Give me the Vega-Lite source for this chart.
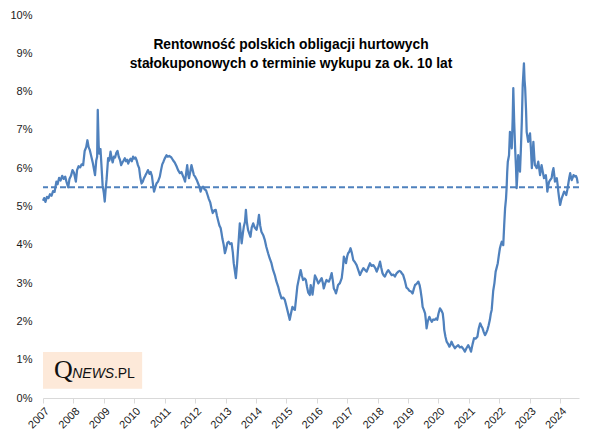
{
  "$schema": "https://vega.github.io/schema/vega-lite/v6.json",
  "width": 536,
  "height": 383,
  "autosize": {"type": "none"},
  "padding": {"left": 43, "top": 15, "right": 23, "bottom": 48},
  "background": "white",
  "config": {
    "view": {"stroke": null},
    "font": "Liberation Sans",
    "axisX": {"labelOverlap": false, "labelAngle": -45, "labelBound": false, "labelFlush": false, "grid": false, "domainColor": "#D9D9D9", "tickColor": "#D9D9D9", "tickSize": 5, "labelFontSize": 11, "labelColor": "#1a1a1a", "labelFont": "Liberation Sans", "labelPadding": 2, "title": null},
    "axisY": {"labelOverlap": false, "labelBound": false, "labelFlush": false, "grid": false, "domain": false, "ticks": false, "labelPadding": 11, "labelFontSize": 11, "labelColor": "#1a1a1a", "labelFont": "Liberation Sans", "title": null}
  },
  "title": {
    "text": ["Rentowność polskich obligacji hurtowych", "stałokuponowych o terminie wykupu za ok. 10 lat"],
    "anchor": "middle", "orient": "top", "offset": -62, "frame": "group",
    "font": "Liberation Sans", "fontWeight": "bold", "fontSize": 13.8, "color": "#000000", "lineHeight": 19, "dx": -20
  },
  "datasets": {
    "yields": [
      {"t":2007.0,"v":5.15},{"t":2007.04,"v":5.22},{"t":2007.08,"v":5.12},{"t":2007.13,"v":5.25},{"t":2007.18,"v":5.22},{"t":2007.23,"v":5.32},{"t":2007.28,"v":5.28},{"t":2007.33,"v":5.4},{"t":2007.38,"v":5.38},{"t":2007.44,"v":5.65},{"t":2007.48,"v":5.58},{"t":2007.53,"v":5.75},{"t":2007.58,"v":5.68},{"t":2007.63,"v":5.8},{"t":2007.68,"v":5.72},{"t":2007.73,"v":5.78},{"t":2007.78,"v":5.62},{"t":2007.83,"v":5.5},{"t":2007.87,"v":5.72},{"t":2007.92,"v":5.8},{"t":2007.97,"v":5.95},
      {"t":2008.02,"v":5.88},{"t":2008.08,"v":5.65},{"t":2008.12,"v":5.95},{"t":2008.17,"v":6.05},{"t":2008.22,"v":6.02},{"t":2008.27,"v":6.1},{"t":2008.32,"v":6.08},{"t":2008.37,"v":6.45},{"t":2008.42,"v":6.55},{"t":2008.46,"v":6.73},{"t":2008.5,"v":6.55},{"t":2008.54,"v":6.47},{"t":2008.59,"v":6.3},{"t":2008.64,"v":6.13},{"t":2008.68,"v":5.95},{"t":2008.71,"v":5.82},{"t":2008.75,"v":6.2},{"t":2008.78,"v":6.3},{"t":2008.8,"v":7.52},{"t":2008.83,"v":6.6},{"t":2008.85,"v":6.38},{"t":2008.89,"v":6.5},{"t":2008.92,"v":6.1},{"t":2008.96,"v":5.55},
      {"t":2009.0,"v":5.35},{"t":2009.03,"v":5.13},{"t":2009.06,"v":5.45},{"t":2009.09,"v":5.7},{"t":2009.14,"v":6.26},{"t":2009.18,"v":6.2},{"t":2009.22,"v":6.43},{"t":2009.26,"v":6.25},{"t":2009.29,"v":6.15},{"t":2009.33,"v":6.3},{"t":2009.37,"v":6.28},{"t":2009.41,"v":6.4},{"t":2009.45,"v":6.45},{"t":2009.49,"v":6.3},{"t":2009.53,"v":6.22},{"t":2009.57,"v":6.08},{"t":2009.61,"v":6.15},{"t":2009.65,"v":6.2},{"t":2009.69,"v":6.26},{"t":2009.73,"v":6.18},{"t":2009.77,"v":6.22},{"t":2009.8,"v":6.12},{"t":2009.84,"v":6.2},{"t":2009.88,"v":6.25},{"t":2009.92,"v":6.18},{"t":2009.96,"v":6.3},
      {"t":2010.0,"v":6.25},{"t":2010.04,"v":6.28},{"t":2010.08,"v":6.2},{"t":2010.12,"v":6.08},{"t":2010.16,"v":6.0},{"t":2010.2,"v":5.75},{"t":2010.24,"v":5.6},{"t":2010.28,"v":5.65},{"t":2010.32,"v":5.74},{"t":2010.36,"v":5.8},{"t":2010.41,"v":5.88},{"t":2010.45,"v":5.95},{"t":2010.5,"v":5.85},{"t":2010.54,"v":5.9},{"t":2010.58,"v":5.8},{"t":2010.62,"v":5.55},{"t":2010.65,"v":5.39},{"t":2010.69,"v":5.5},{"t":2010.73,"v":5.6},{"t":2010.78,"v":5.65},{"t":2010.84,"v":5.78},{"t":2010.88,"v":5.95},{"t":2010.92,"v":6.1},{"t":2010.96,"v":6.17},
      {"t":2011.0,"v":6.25},{"t":2011.06,"v":6.34},{"t":2011.1,"v":6.3},{"t":2011.15,"v":6.32},{"t":2011.22,"v":6.28},{"t":2011.28,"v":6.2},{"t":2011.33,"v":6.15},{"t":2011.39,"v":6.05},{"t":2011.44,"v":5.95},{"t":2011.5,"v":5.87},{"t":2011.55,"v":5.9},{"t":2011.6,"v":5.8},{"t":2011.64,"v":5.72},{"t":2011.67,"v":5.65},{"t":2011.71,"v":5.9},{"t":2011.74,"v":6.08},{"t":2011.77,"v":5.85},{"t":2011.8,"v":5.74},{"t":2011.84,"v":5.9},{"t":2011.88,"v":6.08},{"t":2011.92,"v":5.95},{"t":2011.96,"v":5.82},
      {"t":2012.0,"v":5.78},{"t":2012.05,"v":5.7},{"t":2012.1,"v":5.6},{"t":2012.14,"v":5.52},{"t":2012.18,"v":5.39},{"t":2012.22,"v":5.5},{"t":2012.26,"v":5.52},{"t":2012.31,"v":5.45},{"t":2012.36,"v":5.42},{"t":2012.41,"v":5.3},{"t":2012.45,"v":5.2},{"t":2012.5,"v":5.1},{"t":2012.54,"v":4.95},{"t":2012.58,"v":4.83},{"t":2012.63,"v":4.9},{"t":2012.68,"v":4.91},{"t":2012.72,"v":4.75},{"t":2012.76,"v":4.62},{"t":2012.8,"v":4.5},{"t":2012.84,"v":4.44},{"t":2012.87,"v":4.3},{"t":2012.9,"v":4.15},{"t":2012.94,"v":4.0},{"t":2012.98,"v":3.78},
      {"t":2013.02,"v":3.9},{"t":2013.06,"v":4.05},{"t":2013.1,"v":4.08},{"t":2013.15,"v":4.02},{"t":2013.2,"v":4.04},{"t":2013.24,"v":3.8},{"t":2013.27,"v":3.52},{"t":2013.31,"v":3.3},{"t":2013.34,"v":3.13},{"t":2013.38,"v":3.5},{"t":2013.41,"v":3.86},{"t":2013.44,"v":4.2},{"t":2013.47,"v":4.56},{"t":2013.5,"v":4.3},{"t":2013.53,"v":4.04},{"t":2013.57,"v":4.3},{"t":2013.6,"v":4.47},{"t":2013.64,"v":4.6},{"t":2013.67,"v":4.91},{"t":2013.7,"v":4.6},{"t":2013.74,"v":4.39},{"t":2013.78,"v":4.3},{"t":2013.82,"v":4.21},{"t":2013.86,"v":4.45},{"t":2013.91,"v":4.56},{"t":2013.96,"v":4.45},
      {"t":2014.02,"v":4.39},{"t":2014.06,"v":4.55},{"t":2014.1,"v":4.78},{"t":2014.14,"v":4.5},{"t":2014.18,"v":4.34},{"t":2014.24,"v":4.25},{"t":2014.29,"v":4.13},{"t":2014.34,"v":3.95},{"t":2014.4,"v":3.78},{"t":2014.45,"v":3.65},{"t":2014.51,"v":3.52},{"t":2014.56,"v":3.35},{"t":2014.62,"v":3.21},{"t":2014.67,"v":3.05},{"t":2014.73,"v":2.91},{"t":2014.78,"v":2.75},{"t":2014.84,"v":2.6},{"t":2014.9,"v":2.62},{"t":2014.95,"v":2.56},
      {"t":2015.0,"v":2.4},{"t":2015.06,"v":2.21},{"t":2015.11,"v":2.04},{"t":2015.15,"v":2.2},{"t":2015.2,"v":2.38},{"t":2015.24,"v":2.32},{"t":2015.28,"v":2.3},{"t":2015.32,"v":2.6},{"t":2015.36,"v":2.91},{"t":2015.42,"v":3.15},{"t":2015.47,"v":3.34},{"t":2015.51,"v":3.2},{"t":2015.55,"v":3.08},{"t":2015.6,"v":3.12},{"t":2015.64,"v":3.08},{"t":2015.68,"v":2.9},{"t":2015.72,"v":2.75},{"t":2015.77,"v":2.69},{"t":2015.8,"v":2.95},{"t":2015.86,"v":2.7},{"t":2015.9,"v":2.95},{"t":2015.94,"v":3.2},
      {"t":2016.0,"v":3.1},{"t":2016.05,"v":2.99},{"t":2016.1,"v":3.05},{"t":2016.16,"v":3.13},{"t":2016.2,"v":3.0},{"t":2016.23,"v":2.86},{"t":2016.28,"v":3.0},{"t":2016.32,"v":3.08},{"t":2016.36,"v":3.05},{"t":2016.4,"v":3.04},{"t":2016.45,"v":3.15},{"t":2016.49,"v":3.26},{"t":2016.53,"v":3.05},{"t":2016.56,"v":2.86},{"t":2016.6,"v":2.8},{"t":2016.63,"v":2.73},{"t":2016.67,"v":2.85},{"t":2016.7,"v":2.95},{"t":2016.76,"v":3.0},{"t":2016.82,"v":3.13},{"t":2016.86,"v":3.4},{"t":2016.89,"v":3.69},{"t":2016.93,"v":3.6},{"t":2016.96,"v":3.52},
      {"t":2017.0,"v":3.7},{"t":2017.03,"v":3.78},{"t":2017.07,"v":3.82},{"t":2017.11,"v":3.91},{"t":2017.15,"v":3.8},{"t":2017.2,"v":3.6},{"t":2017.25,"v":3.55},{"t":2017.31,"v":3.47},{"t":2017.36,"v":3.35},{"t":2017.42,"v":3.21},{"t":2017.47,"v":3.3},{"t":2017.53,"v":3.39},{"t":2017.58,"v":3.35},{"t":2017.64,"v":3.3},{"t":2017.7,"v":3.42},{"t":2017.75,"v":3.52},{"t":2017.8,"v":3.45},{"t":2017.86,"v":3.47},{"t":2017.92,"v":3.4},{"t":2017.97,"v":3.3},
      {"t":2018.03,"v":3.42},{"t":2018.08,"v":3.56},{"t":2018.12,"v":3.4},{"t":2018.16,"v":3.26},{"t":2018.2,"v":3.2},{"t":2018.24,"v":3.17},{"t":2018.3,"v":3.28},{"t":2018.35,"v":3.34},{"t":2018.4,"v":3.28},{"t":2018.46,"v":3.21},{"t":2018.52,"v":3.22},{"t":2018.57,"v":3.17},{"t":2018.62,"v":3.25},{"t":2018.68,"v":3.3},{"t":2018.72,"v":3.32},{"t":2018.76,"v":3.3},{"t":2018.8,"v":3.25},{"t":2018.84,"v":3.21},{"t":2018.9,"v":3.05},{"t":2018.95,"v":2.88},
      {"t":2019.0,"v":2.85},{"t":2019.04,"v":2.8},{"t":2019.1,"v":2.78},{"t":2019.15,"v":2.73},{"t":2019.19,"v":2.85},{"t":2019.23,"v":2.95},{"t":2019.28,"v":2.98},{"t":2019.34,"v":3.04},{"t":2019.38,"v":2.95},{"t":2019.41,"v":2.82},{"t":2019.45,"v":2.6},{"t":2019.48,"v":2.38},{"t":2019.52,"v":2.3},{"t":2019.56,"v":2.21},{"t":2019.59,"v":2.0},{"t":2019.61,"v":1.82},{"t":2019.65,"v":2.0},{"t":2019.7,"v":2.12},{"t":2019.74,"v":2.05},{"t":2019.78,"v":1.99},{"t":2019.83,"v":2.05},{"t":2019.88,"v":2.04},{"t":2019.92,"v":2.08},{"t":2019.96,"v":2.04},
      {"t":2020.0,"v":2.2},{"t":2020.05,"v":2.34},{"t":2020.1,"v":2.28},{"t":2020.14,"v":2.21},{"t":2020.17,"v":2.0},{"t":2020.19,"v":1.78},{"t":2020.23,"v":1.6},{"t":2020.27,"v":1.47},{"t":2020.31,"v":1.42},{"t":2020.36,"v":1.34},{"t":2020.4,"v":1.4},{"t":2020.43,"v":1.47},{"t":2020.48,"v":1.38},{"t":2020.54,"v":1.3},{"t":2020.6,"v":1.35},{"t":2020.65,"v":1.38},{"t":2020.7,"v":1.32},{"t":2020.76,"v":1.34},{"t":2020.82,"v":1.28},{"t":2020.87,"v":1.21},{"t":2020.92,"v":1.3},{"t":2020.98,"v":1.38},
      {"t":2021.03,"v":1.3},{"t":2021.07,"v":1.21},{"t":2021.12,"v":1.4},{"t":2021.17,"v":1.56},{"t":2021.22,"v":1.55},{"t":2021.28,"v":1.6},{"t":2021.32,"v":1.8},{"t":2021.37,"v":1.95},{"t":2021.41,"v":1.88},{"t":2021.45,"v":1.82},{"t":2021.49,"v":1.72},{"t":2021.53,"v":1.64},{"t":2021.57,"v":1.7},{"t":2021.61,"v":1.78},{"t":2021.65,"v":1.9},{"t":2021.69,"v":2.04},{"t":2021.72,"v":2.2},{"t":2021.75,"v":2.3},{"t":2021.8,"v":2.8},{"t":2021.84,"v":3.0},{"t":2021.88,"v":3.3},{"t":2021.91,"v":3.39},{"t":2021.95,"v":3.52},{"t":2021.98,"v":3.7},
      {"t":2022.02,"v":3.91},{"t":2022.05,"v":4.0},{"t":2022.08,"v":4.08},{"t":2022.13,"v":3.99},{"t":2022.16,"v":4.5},{"t":2022.19,"v":4.95},{"t":2022.22,"v":5.2},{"t":2022.24,"v":5.48},{"t":2022.26,"v":5.9},{"t":2022.28,"v":6.17},{"t":2022.32,"v":6.34},{"t":2022.35,"v":6.95},{"t":2022.38,"v":6.8},{"t":2022.41,"v":6.52},{"t":2022.44,"v":7.3},{"t":2022.46,"v":8.09},{"t":2022.49,"v":7.2},{"t":2022.52,"v":6.52},{"t":2022.55,"v":6.0},{"t":2022.57,"v":5.48},{"t":2022.6,"v":5.9},{"t":2022.62,"v":6.34},{"t":2022.65,"v":6.1},{"t":2022.68,"v":5.91},{"t":2022.71,"v":6.5},{"t":2022.74,"v":7.21},{"t":2022.77,"v":8.17},{"t":2022.81,"v":8.74},{"t":2022.83,"v":8.3},{"t":2022.85,"v":8.09},{"t":2022.88,"v":7.5},{"t":2022.9,"v":6.95},{"t":2022.95,"v":6.69},
      {"t":2023.01,"v":6.91},{"t":2023.04,"v":6.5},{"t":2023.07,"v":6.0},{"t":2023.1,"v":6.4},{"t":2023.12,"v":6.69},{"t":2023.15,"v":6.3},{"t":2023.17,"v":6.08},{"t":2023.2,"v":6.05},{"t":2023.23,"v":6.0},{"t":2023.28,"v":6.17},{"t":2023.31,"v":6.0},{"t":2023.34,"v":5.82},{"t":2023.39,"v":6.08},{"t":2023.43,"v":5.9},{"t":2023.47,"v":5.74},{"t":2023.53,"v":5.82},{"t":2023.56,"v":5.6},{"t":2023.58,"v":5.39},{"t":2023.61,"v":5.55},{"t":2023.64,"v":5.65},{"t":2023.68,"v":5.7},{"t":2023.72,"v":5.74},{"t":2023.75,"v":5.9},{"t":2023.78,"v":6.0},{"t":2023.81,"v":5.8},{"t":2023.83,"v":5.65},{"t":2023.86,"v":5.7},{"t":2023.89,"v":5.74},{"t":2023.92,"v":5.55},{"t":2023.94,"v":5.39},{"t":2023.97,"v":5.2},
      {"t":2024.0,"v":5.04},{"t":2024.03,"v":5.15},{"t":2024.05,"v":5.21},{"t":2024.09,"v":5.3},{"t":2024.13,"v":5.39},{"t":2024.17,"v":5.35},{"t":2024.2,"v":5.3},{"t":2024.24,"v":5.45},{"t":2024.27,"v":5.6},{"t":2024.3,"v":5.75},{"t":2024.33,"v":5.87},{"t":2024.36,"v":5.75},{"t":2024.38,"v":5.69},{"t":2024.41,"v":5.75},{"t":2024.44,"v":5.82},{"t":2024.47,"v":5.8},{"t":2024.49,"v":5.78},{"t":2024.52,"v":5.8},{"t":2024.55,"v":5.74},{"t":2024.58,"v":5.6}
    ]
  },
  "layer": [
    {
      "data": {"name": "yields"},
      "mark": {"type": "line", "color": "#4F81BD", "strokeWidth": 2.25, "strokeJoin": "round"},
      "encoding": {
        "x": {
          "field": "t", "type": "quantitative",
          "scale": {"domain": [2007, 2024.62], "nice": false, "zero": false},
          "axis": {"values": [2007,2008,2009,2010,2011,2012,2013,2014,2015,2016,2017,2018,2019,2020,2021,2022,2023,2024], "format": "d", "labelAngle": -45, "labelOverlap": false}
        },
        "y": {
          "field": "v", "type": "quantitative",
          "scale": {"domain": [0, 10], "nice": false},
          "axis": {"values": [0,1,2,3,4,5,6,7,8,9,10], "labelOverlap": false, "labelExpr": "datum.value + '%'"}
        }
      }
    },
    {
      "data": {"values": [{}]},
      "mark": {"type": "rect", "color": "#FDE9D9"},
      "encoding": {
        "x": {"datum": 2007.0, "type": "quantitative", "axis": {"values": [2007,2008,2009,2010,2011,2012,2013,2014,2015,2016,2017,2018,2019,2020,2021,2022,2023,2024], "format": "d", "labelAngle": -45, "labelOverlap": false}},
        "x2": {"datum": 2010.26},
        "y": {"datum": 0.24, "type": "quantitative", "axis": {"values": [0,1,2,3,4,5,6,7,8,9,10], "labelOverlap": false, "labelExpr": "datum.value + '%'"}},
        "y2": {"datum": 1.2}
      }
    },
    {
      "data": {"values": [{}]},
      "mark": {"type": "rule", "color": "#4F81BD", "strokeWidth": 2, "strokeDash": [6, 3]},
      "encoding": {"y": {"datum": 5.5, "type": "quantitative", "axis": {"values": [0,1,2,3,4,5,6,7,8,9,10], "labelOverlap": false, "labelExpr": "datum.value + '%'"}}}
    },
    {
      "data": {"values": [{}]},
      "mark": {"type": "text", "text": "Q", "font": "Liberation Serif", "fontSize": 26, "color": "#111111", "align": "left", "baseline": "alphabetic"},
      "encoding": {
        "x": {"datum": 2007.36, "type": "quantitative", "axis": {"values": [2007,2008,2009,2010,2011,2012,2013,2014,2015,2016,2017,2018,2019,2020,2021,2022,2023,2024], "format": "d", "labelAngle": -45, "labelOverlap": false}},
        "y": {"datum": 0.52, "type": "quantitative", "axis": {"values": [0,1,2,3,4,5,6,7,8,9,10], "labelOverlap": false, "labelExpr": "datum.value + '%'"}}
      }
    },
    {
      "data": {"values": [{}]},
      "mark": {"type": "text", "text": "NEWS", "font": "Liberation Sans", "fontStyle": "italic", "fontSize": 14, "color": "#111111", "align": "left", "baseline": "alphabetic"},
      "encoding": {
        "x": {"datum": 2007.96, "type": "quantitative", "axis": {"values": [2007,2008,2009,2010,2011,2012,2013,2014,2015,2016,2017,2018,2019,2020,2021,2022,2023,2024], "format": "d", "labelAngle": -45, "labelOverlap": false}},
        "y": {"datum": 0.52, "type": "quantitative", "axis": {"values": [0,1,2,3,4,5,6,7,8,9,10], "labelOverlap": false, "labelExpr": "datum.value + '%'"}}
      }
    },
    {
      "data": {"values": [{}]},
      "mark": {"type": "text", "text": ".PL", "font": "Liberation Sans", "fontSize": 14, "color": "#111111", "align": "left", "baseline": "alphabetic"},
      "encoding": {
        "x": {"datum": 2009.33, "type": "quantitative", "axis": {"values": [2007,2008,2009,2010,2011,2012,2013,2014,2015,2016,2017,2018,2019,2020,2021,2022,2023,2024], "format": "d", "labelAngle": -45, "labelOverlap": false}},
        "y": {"datum": 0.52, "type": "quantitative", "axis": {"values": [0,1,2,3,4,5,6,7,8,9,10], "labelOverlap": false, "labelExpr": "datum.value + '%'"}}
      }
    }
  ]
}
